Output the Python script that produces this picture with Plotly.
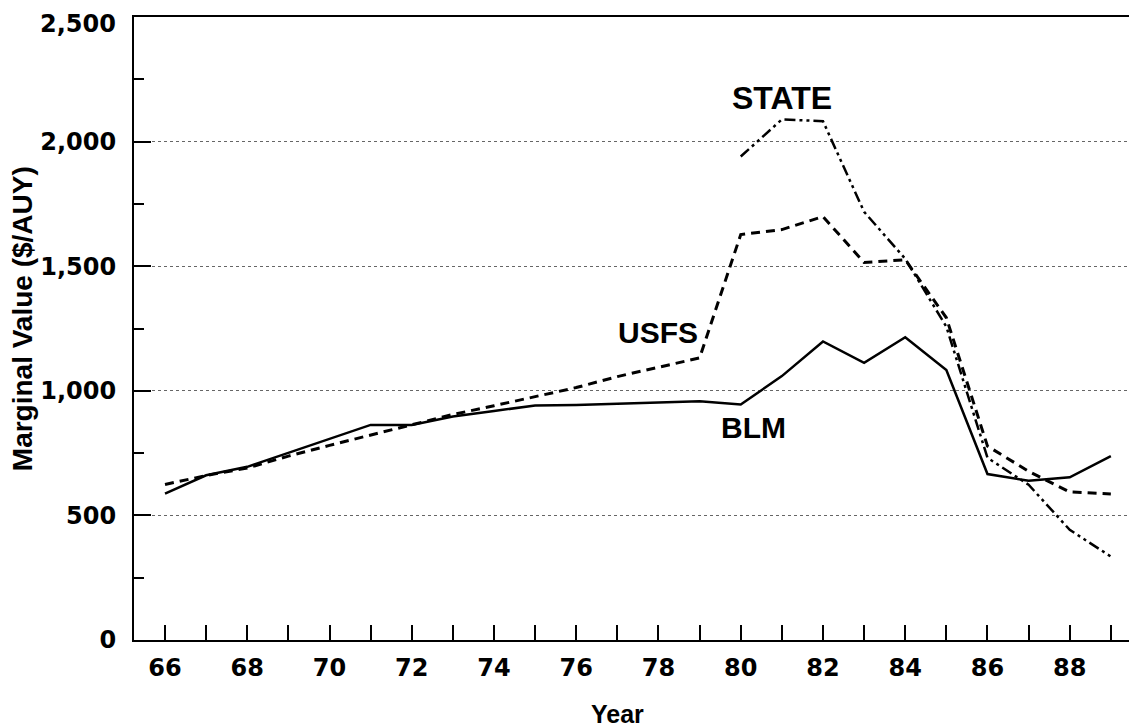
import plotly.graph_objects as go

years = list(range(66, 90))
blm = [587, 661, 695, 751, 808, 863, 863, 897, 919, 941, 943, 948, 954, 958, 945,
       1059, 1198, 1112, 1215, 1083, 666, 639, 653, 738]
usfs = [624, 660, 690, 738, 781, 823, 866, 905, 940, 977, 1013, 1057, 1095, 1132, 1627,
        1647, 1699, 1515, 1526, 1293, 778, 677, 594, 586]
state = [None] * 14 + [1940, 2089, 2082, 1718, 1530, 1257, 731, 623, 442, 335]

x_tickvals = list(range(66, 90, 2))
x_ticktext = [str(v) for v in x_tickvals]
y_tickvals = [0, 500, 1000, 1500, 2000, 2500]
y_ticktext = ["0", "500", "1,000", "1,500", "2,000", ""]
top_label = "2,500"   # top tick label, drawn as an annotation so it stays inside the page

labels = [("STATE", 81.0, 2175, 32), ("USFS", 77.99, 1234, 30), ("BLM", 80.31, 853, 30)]

fig = go.Figure()
fig.add_trace(go.Scatter(x=years, y=blm, mode="lines", name="BLM",
                         line=dict(color="black", width=2.5)))
fig.add_trace(go.Scatter(x=years, y=usfs, mode="lines", name="USFS",
                         line=dict(color="black", width=3, dash="9px,6px")))
fig.add_trace(go.Scatter(x=years, y=state, mode="lines", name="STATE",
                         line=dict(color="black", width=2.5,
                                   dash="11px,4px,3px,4px,3px,4px")))

for txt, xv, yv, fs in labels:
    fig.add_annotation(x=xv, y=yv, xref="x", yref="y", text="<b>" + txt + "</b>",
                       showarrow=False,
                       font=dict(family="Liberation Sans, Arial", size=fs, color="black"),
                       xanchor="center", yanchor="middle")

fig.add_annotation(x=-0.0175, y=1.0128, xref="paper", yref="paper",
                   text="<b>" + top_label + "</b>", showarrow=False, borderpad=0,
                   font=dict(family="DejaVu Sans", size=24, color="black"),
                   xanchor="right", yanchor="top")
fig.add_annotation(x=-0.1123, y=0.515, xref="paper", yref="paper",
                   text="<b>Marginal Value ($/AUY)</b>", textangle=-90, showarrow=False,
                   font=dict(family="Liberation Sans, Arial", size=28, color="black"),
                   xanchor="center", yanchor="middle")
fig.add_annotation(x=0.4845, y=-0.1188, xref="paper", yref="paper",
                   text="<b>Year</b>", showarrow=False,
                   font=dict(family="Liberation Sans, Arial", size=25, color="black"),
                   xanchor="center", yanchor="middle")

# the page body adds an 8px margin, so the figure is drawn 8px smaller and shifted
fig.update_layout(
    width=1129, height=719,
    margin=dict(l=126, r=6, t=9, b=87, autoexpand=False),
    paper_bgcolor="white", plot_bgcolor="white",
    showlegend=False,
    xaxis=dict(range=[65.246, 89.49], tickmode="array", tickvals=x_tickvals,
               ticktext=x_ticktext, ticks="inside", ticklen=15, tickwidth=1.5,
               tickcolor="black", showgrid=False, zeroline=False, automargin=False,
               showline=True, linecolor="black", linewidth=2, mirror=True,
               ticklabelstandoff=5, ticklabeloverflow="allow",
               tickfont=dict(family="DejaVu Sans", size=24, color="black", weight="bold"),
               minor=dict(dtick=1, tick0=66, ticks="inside", ticklen=15, tickwidth=1.5,
                          tickcolor="black", showgrid=False)),
    yaxis=dict(range=[0, 2500], tickmode="array", tickvals=y_tickvals,
               ticktext=y_ticktext, ticks="inside", ticklen=17, tickwidth=1.5,
               tickcolor="black", showgrid=True, gridcolor="#666666", gridwidth=1,
               griddash="dot", zeroline=False, automargin=False,
               showline=True, linecolor="black", linewidth=2, mirror=True,
               ticklabelstandoff=11, ticklabeloverflow="allow",
               tickfont=dict(family="DejaVu Sans", size=24, color="black", weight="bold"),
               minor=dict(dtick=250, tick0=0, ticks="inside", ticklen=10, tickwidth=1.5,
                          tickcolor="black", showgrid=False)),
)

fig.write_html("out.html")
